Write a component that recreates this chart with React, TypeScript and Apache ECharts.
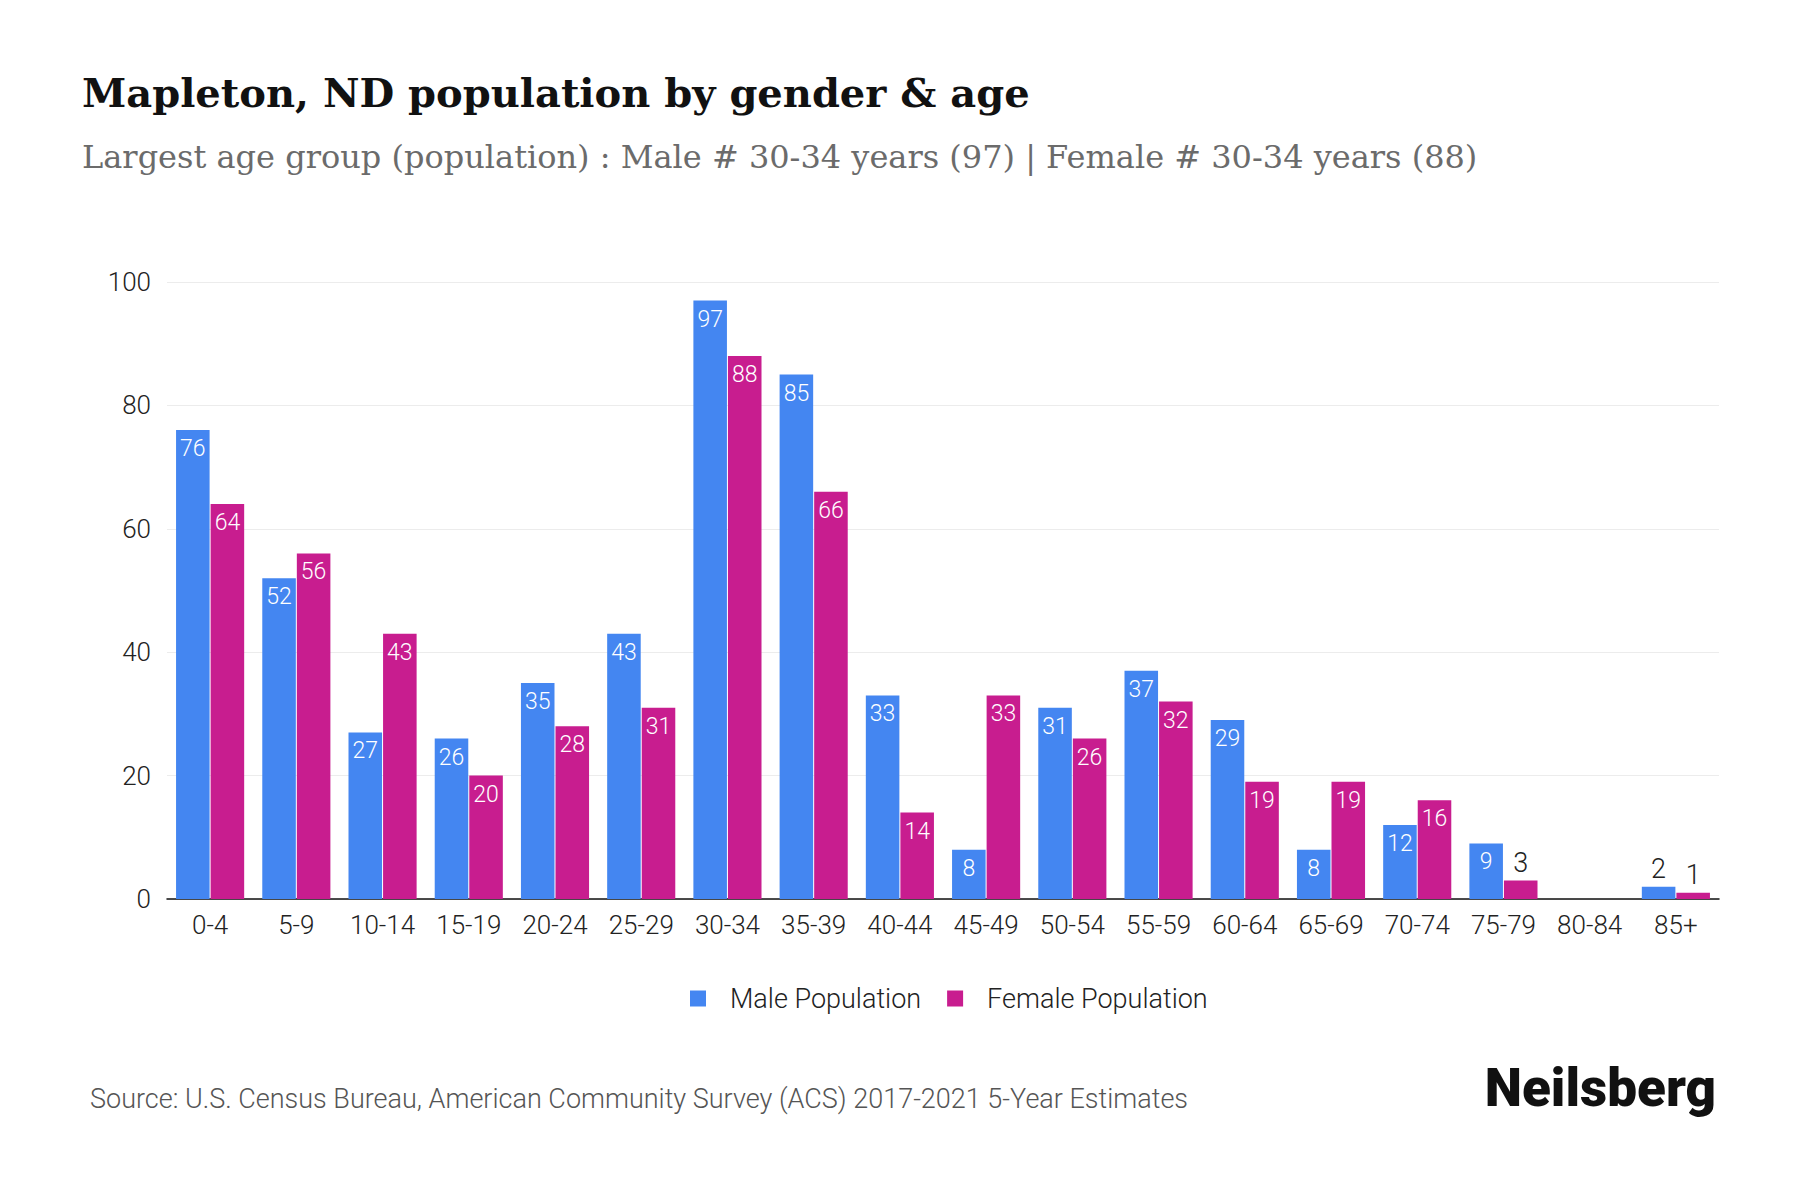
import React, { useEffect, useRef } from "react";
import * as echarts from "echarts";

const categories = ["0-4","5-9","10-14","15-19","20-24","25-29","30-34","35-39","40-44","45-49","50-54","55-59","60-64","65-69","70-74","75-79","80-84","85+"];
const maleValues = [76,52,27,26,35,43,97,85,33,8,31,37,29,8,12,9,0,2];
const femaleValues = [64,56,43,20,28,31,88,66,14,33,26,32,19,19,16,3,0,1];
const yTicks = { min: 0, max: 100, interval: 20 };

const MALE = "#4486F1";
const FEMALE = "#C81D8F";

function toData(values: number[]) {
  return values.map((v) => {
    if (v === 0) return { value: v, label: { show: false } };
    if (v < 5) {
      return {
        value: v,
        label: { position: "top", color: "#222", fontSize: 27, distance: 4 },
      };
    }
    return { value: v };
  });
}

export default function App() {
  const ref = useRef<HTMLDivElement>(null);
  useEffect(() => {
    if (!ref.current) return;
    const chart = echarts.init(ref.current, undefined, { renderer: "svg" });
    const labelBase = {
      show: true,
      position: "insideTop",
      distance: 7,
      color: "#ffffff",
      fontSize: 23,
      fontFamily: "Roboto",
      fontWeight: 300,
    };
    chart.setOption({
      animation: false,
      backgroundColor: "#ffffff",
      graphic: [
        {
          type: "text",
          x: 82,
          y: 92,
          style: {
            text: "Mapleton, ND population by gender & age",
            font: "bold 40px 'DejaVu Serif', serif",
            fill: "#111111",
            align: "left",
            verticalAlign: "middle",
          },
        },
        {
          type: "text",
          x: 82,
          y: 157,
          style: {
            text: "Largest age group (population) : Male # 30-34 years (97) | Female # 30-34 years (88)",
            font: "32px 'DejaVu Serif', serif",
            fill: "#6b6b6b",
            align: "left",
            verticalAlign: "middle",
          },
        },
        {
          type: "text",
          x: 90,
          y: 1099,
          style: {
            text: "Source: U.S. Census Bureau, American Community Survey (ACS) 2017-2021 5-Year Estimates",
            font: "300 27px Roboto, sans-serif",
            fill: "#555555",
            align: "left",
            verticalAlign: "middle",
          },
        },
        {
          type: "text",
          x: 1716,
          y: 1088,
          style: {
            text: "Neilsberg",
            font: "900 53px Roboto, sans-serif",
            fill: "#111111",
            align: "right",
            verticalAlign: "middle",
          },
        },
      ],
      legend: {
        left: 685,
        top: 980,
        itemWidth: 16,
        itemHeight: 16,
        itemGap: 26,
        icon: "rect",
        textStyle: {
          fontFamily: "Roboto",
          fontWeight: 300,
          fontSize: 27,
          color: "#222",
          padding: [0, 0, 0, 19],
        },
        data: ["Male Population", "Female Population"],
      },
      grid: { left: 167, right: 81, top: 282, bottom: 301, containLabel: false },
      xAxis: {
        type: "category",
        data: categories,
        axisTick: { show: false },
        axisLine: { lineStyle: { color: "#111", width: 1.5 } },
        axisLabel: {
          margin: 13,
          fontFamily: "Roboto",
          fontWeight: 300,
          fontSize: 26,
          color: "#222",
          interval: 0,
        },
      },
      yAxis: {
        type: "value",
        min: yTicks.min,
        max: yTicks.max,
        interval: yTicks.interval,
        axisLine: { show: false },
        axisTick: { show: false },
        splitLine: { lineStyle: { color: "#ececec", width: 1 } },
        axisLabel: {
          margin: 16,
          fontFamily: "Roboto",
          fontWeight: 300,
          fontSize: 26,
          color: "#222",
        },
      },
      series: [
        {
          name: "Male Population",
          type: "bar",
          data: toData(maleValues),
          itemStyle: { color: MALE },
          barGap: "3%",
          barCategoryGap: "21%",
          label: labelBase,
        },
        {
          name: "Female Population",
          type: "bar",
          data: toData(femaleValues),
          itemStyle: { color: FEMALE },
          barGap: "3%",
          barCategoryGap: "21%",
          label: labelBase,
        },
      ],
    });
    return () => chart.dispose();
  }, []);
  return (
    <div
      ref={ref}
      style={{ position: "fixed", left: 0, top: 0, width: 1800, height: 1200 }}
    />
  );
}
